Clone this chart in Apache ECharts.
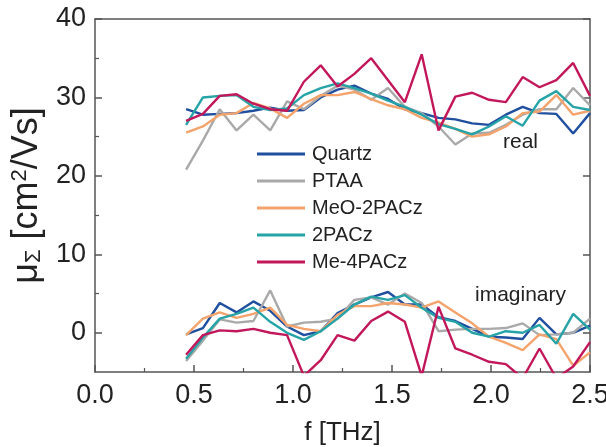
<!DOCTYPE html>
<html><head><meta charset="utf-8">
<script src="https://cdn.jsdelivr.net/npm/echarts@6/dist/echarts.min.js"></script>
<style>html,body{margin:0;padding:0;background:#fff}#c{width:606px;height:447px}</style>
</head><body><div id="c"></div>
<script>
// frequency points [THz]
const freq = [0.46,0.545,0.63,0.715,0.80,0.885,0.97,1.055,1.14,1.225,1.31,1.395,1.48,1.565,1.65,1.735,1.82,1.905,1.99,2.075,2.16,2.245,2.33,2.415,2.50];
const seriesNames = ['Quartz','PTAA','MeO-2PACz','2PACz','Me-4PACz'];
// real parts
const quartzRe = [28.5,27.8,27.9,28.0,28.3,28.7,28.3,28.4,30.0,31.0,31.5,30.5,29.8,28.5,28.0,27.4,27.2,26.7,26.5,27.8,28.8,28.0,27.9,25.4,28.0];
const ptaaRe   = [20.8,24.5,28.5,25.8,27.8,25.8,29.5,28.5,30.2,31.5,31.0,29.7,31.2,28.8,28.0,26.3,24.0,25.4,25.5,26.5,27.8,28.5,28.5,31.2,29.0];
const meoRe    = [25.5,26.3,27.8,28.0,29.3,28.6,27.4,29.2,30.3,30.3,30.7,29.8,29.0,28.5,27.4,26.8,26.0,25.0,25.3,26.3,28.0,28.2,30.3,27.8,28.3];
const twoRe    = [26.5,30.0,30.2,30.3,28.8,28.4,28.6,30.3,31.2,31.8,31.2,30.5,29.6,28.8,27.8,26.6,26.0,25.3,26.3,27.6,26.4,29.6,30.8,28.8,28.4];
const me4Re    = [27.0,27.9,30.2,30.4,29.2,28.5,28.3,32.0,34.1,31.4,33.0,35.0,32.2,29.4,35.5,25.8,30.1,30.6,29.7,29.4,32.6,31.3,32.2,34.4,30.2];
// imaginary parts
const quartzIm = [-0.2,0.6,3.8,2.6,4.0,2.8,0.8,-0.3,0.2,2.5,3.6,4.5,5.2,3.6,3.6,2.0,1.5,0.5,-0.5,-0.6,-0.8,1.9,-0.2,0.0,0.9];
const ptaaIm   = [-3.6,-1.0,1.7,1.3,1.5,5.4,0.8,1.3,1.4,1.8,4.2,4.5,3.6,5.0,3.8,0.2,0.4,0.5,0.5,0.6,1.2,-0.3,-0.2,0.0,1.8];
const meoIm    = [-0.3,1.8,2.6,1.9,2.4,3.2,1.0,0.5,0.2,2.3,3.4,3.4,3.8,3.6,3.2,4.0,2.6,1.2,-0.5,-1.3,-2.2,-0.2,-0.8,-4.2,-2.5];
const twoIm    = [-3.3,-0.6,1.8,2.4,3.2,1.4,0.0,-0.9,0.2,1.8,3.6,4.6,4.2,4.8,3.2,1.9,1.4,0.0,-0.5,0.2,0.0,1.0,-1.4,2.4,0.4];
const me4Im    = [-2.8,-0.3,0.3,0.2,0.5,0.0,-0.3,-5.5,-3.5,-0.3,-1.0,1.5,2.7,1.4,-5.5,3.3,-2.0,-2.8,-3.7,-4.0,-5.8,-2.0,-5.8,-4.3,-1.2];
const yMajor = [0,10,20,30,40];
const yMinor = [5,15,25,35];

const colors = ['#1f4f9e','#a9a9a9','#f4a36c','#25a3a6','#c2185b'];
const reData = [quartzRe, ptaaRe, meoRe, twoRe, me4Re];
const imData = [quartzIm, ptaaIm, meoIm, twoIm, me4Im];
const pair = (arr) => freq.map((f,i)=>[f,arr[i]]);
const FONT = 'Liberation Sans';
const axColor = '#555';
const txt = '#222';

const series = [];
seriesNames.forEach((n,k)=>{
  [reData[k], imData[k]].forEach(d=>{
    series.push({name:n,type:'line',data:pair(d),showSymbol:false,symbol:'none',clip:true,
      lineStyle:{color:colors[k],width:2.4},itemStyle:{color:colors[k]},z:k===4?3:2});
  });
});

const chart = echarts.init(document.getElementById('c'),null,{renderer:'canvas'});
chart.setOption({
  animation:false,
  textStyle:{fontFamily:FONT},
  grid:{left:95,right:16,top:19,bottom:75,containLabel:false,outerBoundsMode:'none'},
  legend:{data:seriesNames,orient:'vertical',left:252,top:139,icon:'rect',itemWidth:48,itemHeight:3,itemGap:7,
    textStyle:{fontFamily:FONT,fontSize:20,color:txt,padding:[0,0,0,2]}},
  xAxis:[
    {type:'value',min:0,max:2.5,interval:0.5,position:'bottom',
     name:'f [THz]',nameLocation:'middle',nameGap:48,nameTextStyle:{fontFamily:FONT,fontSize:26,color:txt},
     axisLine:{show:true,onZero:false,lineStyle:{color:axColor,width:1.5}},
     axisTick:{show:true,inside:true,length:7,lineStyle:{color:axColor,width:1.5}},
     minorTick:{show:true,splitNumber:2,length:4,lineStyle:{color:axColor,width:1.2}},
     axisLabel:{fontFamily:FONT,fontSize:27,color:txt,margin:10,formatter:v=>v.toFixed(1)},
     splitLine:{show:false}},
    {type:'value',min:0,max:2.5,interval:0.5,position:'top',
     axisLine:{show:true,onZero:false,lineStyle:{color:axColor,width:1.5}},
     axisTick:{show:false},axisLabel:{show:false},splitLine:{show:false}}
  ],
  yAxis:[
    {type:'value',min:-5,max:40,interval:5,position:'left',
     name:'{a|μ}{sub|Σ}{a| [cm}{sup|2}{a|/Vs]}',nameLocation:'middle',nameGap:44,nameRotate:90,
     nameTextStyle:{fontFamily:FONT,fontSize:36,color:txt,
       rich:{a:{fontFamily:FONT,fontSize:36,color:txt},
             sub:{fontFamily:FONT,fontSize:22,color:txt,verticalAlign:'bottom',padding:[14,0,0,0]},
             sup:{fontFamily:FONT,fontSize:22,color:txt,verticalAlign:'top',padding:[0,0,14,0]}}},
     axisLine:{show:true,onZero:false,lineStyle:{color:axColor,width:1.5}},
     axisTick:{show:true,inside:true,length:7,customValues:yMajor,lineStyle:{color:axColor,width:1.5}},
     axisLabel:{fontFamily:FONT,fontSize:27,color:txt,margin:9,customValues:yMajor},
     splitLine:{show:false}},
    {type:'value',min:-5,max:40,interval:5,position:'left',
     axisLine:{show:false,onZero:false},
     axisTick:{show:true,inside:true,length:4,customValues:yMinor,lineStyle:{color:axColor,width:1.2}},
     axisLabel:{show:false},splitLine:{show:false}},
    {type:'value',min:-5,max:40,interval:5,position:'right',
     axisLine:{show:true,onZero:false,lineStyle:{color:axColor,width:1.5}},
     axisTick:{show:true,inside:true,length:7,customValues:yMajor,lineStyle:{color:axColor,width:1.5}},
     axisLabel:{show:false},splitLine:{show:false}}
  ],
  graphic:[
    {type:'text',left:503,top:132,style:{text:'real',font:'21px "Liberation Sans"',fill:txt}},
    {type:'text',left:475,top:285,style:{text:'imaginary',font:'21px "Liberation Sans"',fill:txt}}
  ],
  series: series
});
</script></body></html>
